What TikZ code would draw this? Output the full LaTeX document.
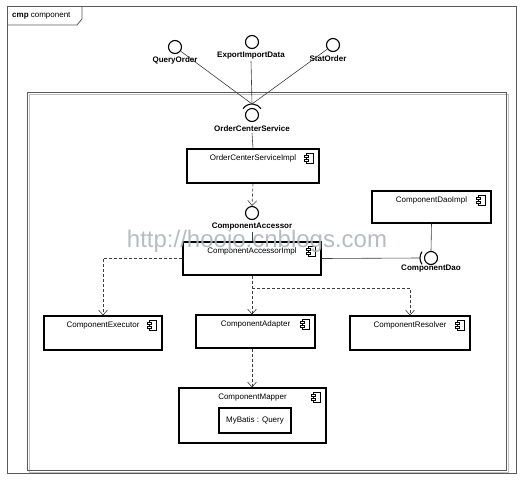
\documentclass[tikz,border=0pt]{standalone}
\usepackage{fontspec}
\setmainfont{Liberation Sans}
\usepackage{xcolor}
\usepackage{tikz}
\usetikzlibrary{arrows.meta, positioning}
\definecolor{framegray}{RGB}{90, 90, 90}
\definecolor{linegray}{RGB}{60, 60, 60}
\definecolor{markgray}{RGB}{175, 180, 190}

\tikzset{
  compicon/.pic={
    \draw[line width=0.6pt] (-3,-5) rectangle (4,5);
    \draw[line width=0.6pt, fill=white] (-5,-3) rectangle (-1,-1);
    \draw[line width=0.6pt, fill=white] (-5,1) rectangle (-1,3);
  }
}

\begin{document}
\begin{tikzpicture}[x=1pt, y=-1pt,
    comp/.style={rectangle, draw=black, line width=1.1pt, fill=white, inner sep=0pt},
    complabel/.style={anchor=north, inner sep=0pt, yshift=-6.5pt, font=\fontsize{8}{9.6}\selectfont},
    iface/.style={circle, draw=black, line width=1.1pt, fill=white, minimum size=13pt, inner sep=0pt},
    ilabel/.style={font=\fontsize{8}{9.6}\selectfont\bfseries, inner sep=1pt},
    conn/.style={draw=linegray, line width=0.6pt},
    sock/.style={draw=black, line width=1.1pt},
    dep/.style={draw=linegray, line width=0.6pt, dash pattern=on 3pt off 2pt, -{Straight Barb[length=5pt,width=9pt]}}]
    \useasboundingbox (0,0) rectangle (523,480);

    % frame and boundary
    \draw[framegray, line width=0.8pt] (7,6) rectangle (516,473);
    \draw[framegray, line width=0.8pt] (7,25) -- (77,25) -- (82,19) -- (82,6);
    \node[anchor=west, inner sep=0pt, font=\fontsize{8}{9.6}\selectfont] (title) at (12,16) {\textbf{cmp} component};
    \draw[black!25, line width=1pt] (29,94) rectangle (508,472);
    \draw[framegray, line width=0.8pt] (27,92) rectangle (506,470.5);

    % provided interfaces
    \node[iface] (qo) at (175,47) {};
    \node[ilabel] (qol) at (175,60) {QueryOrder};
    \node[iface] (eid) at (252,42) {};
    \node[ilabel] (eidl) at (251,56) {ExportImportData};
    \node[iface] (so) at (333,45) {};
    \node[ilabel] (sol) at (328,59) {StatOrder};

    \node[iface] (ocs) at (252,115) {};
    \node[ilabel] (ocsl) at (252,129) {OrderCenterService};
    \coordinate (ocsock) at (252,104);
    \draw[sock] (ocs.center) ++(215:11) arc (215:325:11);

    % components
    \node[comp, minimum width=132pt, minimum height=34pt, label={[complabel]north:OrderCenterServiceImpl}] (ocsi) at (253,166) {};
    \node[iface] (ca) at (252,213) {};
    \node[ilabel] (cal) at (252,227) {ComponentAccessor};
    \node[comp, minimum width=138pt, minimum height=33pt, label={[complabel]north:ComponentAccessorImpl}] (cai) at (252,258.5) {};
    \node[comp, minimum width=119pt, minimum height=32pt, label={[complabel]north:ComponentDaoImpl}] (cdi) at (431.5,207) {};
    \node[iface] (cd) at (431,258) {};
    \node[ilabel] (cdl) at (431,269) {ComponentDao};
    \coordinate (cdsock) at (420,258);
    \draw[sock] (cd.center) ++(145:11) arc (145:215:11);

    \node[comp, minimum width=118pt, minimum height=34pt, label={[complabel]north:ComponentExecutor}] (ce) at (103,333) {};
    \node[comp, minimum width=119pt, minimum height=33pt, label={[complabel]north:ComponentAdapter}] (cad) at (255.5,331.5) {};
    \node[comp, minimum width=120pt, minimum height=34pt, label={[complabel]north:ComponentResolver}] (cr) at (410,333) {};
    \node[comp, minimum width=147pt, minimum height=55pt, label={[complabel]north:ComponentMapper}] (cm) at (252.5,415.5) {};
    \node[comp, minimum width=72pt, minimum height=25pt, font=\fontsize{8}{9.6}\selectfont] (mb) at (255,420.5) {MyBatis : Query};

    \foreach \c in {ocsi, cai, cdi, ce, cad, cr, cm}
        \pic at ([xshift=-10pt, yshift=-10pt]\c.north east) {compicon};

    \coordinate (split) at (252,288);

    % connectors
    \path [conn] (qo) -- (ocsock);
    \path [conn] (eidl.south) -- (ocsock);
    \path [conn] (so) -- (ocsock);
    \path [conn] (ocsl.south) -- (ocsi.north);
    \path [dep] (ocsi.south) -- (ca.north);
    \path [conn] (cal.south) -- (cai.north);
    \path [conn] (cdi.south) -- (cd.north);
    \path [conn] (cai.east) -- (cdsock);
    \path [dep] (cai.west) -| (ce.north);
    \path [dep] (cai.south) -- (cai.south |- cad.north);
    \path [dep] (split) -| (cr.north);
    \path [dep] (cai.south |- cad.south) -- (cai.south |- cm.north);

    % watermark
    \node[font=\fontsize{24}{26}\selectfont, text=markgray, opacity=0.9] (mark) at (257,241) {http://hoojo.cnblogs.com};
\end{tikzpicture}
\end{document}
